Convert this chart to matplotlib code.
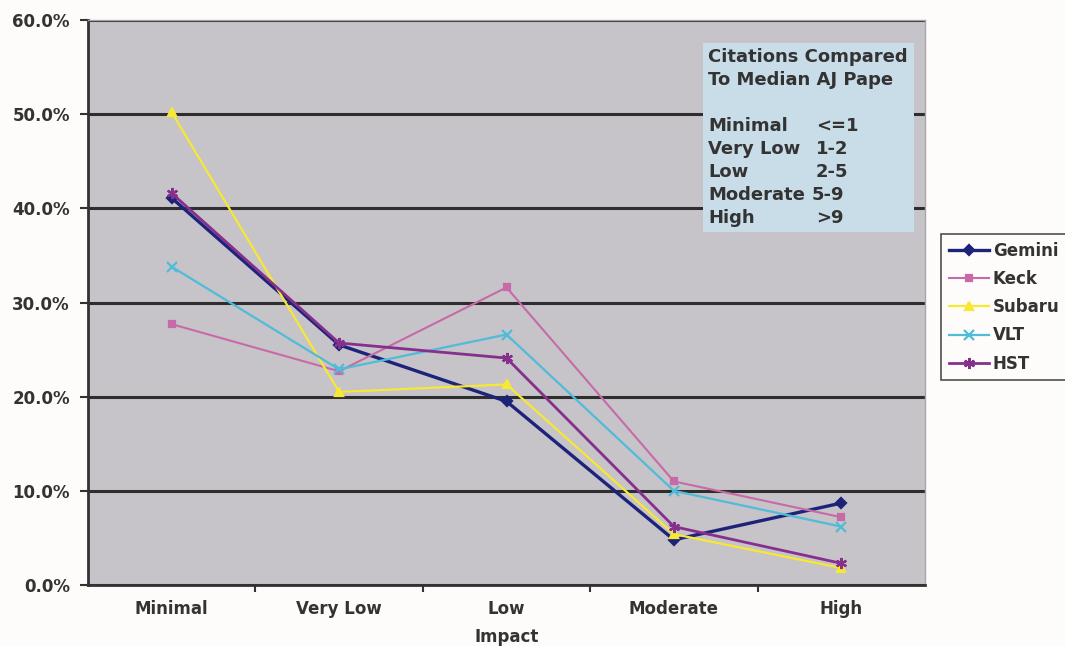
import matplotlib
matplotlib.use("Agg")
import matplotlib.pyplot as plt
from matplotlib.patches import Rectangle
import numpy as np

categories = ["Minimal", "Very Low", "Low", "Moderate", "High"]
series_names = ["Gemini", "Keck", "Subaru", "VLT", "HST"]
gemini = [41.1, 25.5, 19.5, 4.8, 8.7]
keck = [27.7, 22.7, 31.6, 11.0, 7.2]
subaru = [50.2, 20.5, 21.3, 5.4, 1.8]
vlt = [33.8, 22.9, 26.6, 10.0, 6.2]
hst = [41.6, 25.7, 24.1, 6.2, 2.3]
y_ticks = [0, 10, 20, 30, 40, 50, 60]

note_title = ["Citations Compared", "To Median AJ Pape"]
note_levels = ["Minimal", "Very Low", "Low", "Moderate", "High"]
note_ranges = ["<=1", "1-2", "2-5", "5-9", ">9"]

plt.rcParams["font.family"] = ["DejaVu Sans"]
plt.rcParams["font.weight"] = "bold"
TXT = "#333333"
W, H = 1065, 646

fig = plt.figure(figsize=(W / 100, H / 100), dpi=100, facecolor="#fdfcfa")
ax = fig.add_axes([88 / W, 1 - 585 / H, (925 - 88) / W, (585 - 20) / H])
ax.set_facecolor("#c6c3c9")

x = np.arange(len(categories))
styles = [
    (gemini, "#1e237a", "D", 2.4, 5),
    (keck, "#c86aa8", "s", 1.5, 5),
    (subaru, "#f7e832", "^", 1.6, 6),
    (vlt, "#4fbcd8", "x", 1.6, 7),
    (hst, "#86308e", (6, 2, 0), 2.0, 8),
]
for name, (vals, col, mk, lw, ms) in zip(series_names, styles):
    ax.plot(x, vals, color=col, lw=lw, marker=mk, ms=ms, mew=1.6,
            label=name, zorder=3)

ax.set_xlim(-0.5, len(categories) - 0.5)
ax.set_ylim(0, 60)
ax.set_yticks(y_ticks)
ax.set_yticklabels([f"{v:.1f}%" for v in y_ticks], fontsize=12,
                   fontweight="bold", color=TXT)
ax.yaxis.grid(True, color="#2e2e2e", lw=2.2)
ax.set_axisbelow(True)

ax.set_xticks(x)
ax.set_xticklabels(categories, fontsize=12, fontweight="bold", color=TXT)
ax.tick_params(axis="x", which="major", length=0, pad=11)
ax.set_xticks(np.arange(0.5, len(categories) - 0.5), minor=True)
ax.tick_params(axis="x", which="minor", length=5, width=1.5, direction="out",
               color=TXT)
ax.tick_params(axis="y", length=6, width=1.5, direction="out",
               color=TXT, pad=7)
ax.set_xlabel("Impact", fontsize=12, fontweight="bold", color=TXT,
              labelpad=7)

for side in ["top", "right"]:
    ax.spines[side].set_color("#a9a6ab")
    ax.spines[side].set_linewidth(1)
for side in ["left", "bottom"]:
    ax.spines[side].set_color(TXT)
    ax.spines[side].set_linewidth(2)

# Definition box for the impact levels
fig.patches.append(Rectangle((703 / W, 1 - 232 / H), (914 - 703) / W,
                             (232 - 43) / H, transform=fig.transFigure,
                             fc="#c9dde8", ec="none", zorder=5))
pitch = 23
y0 = 57
for i, line in enumerate(note_title):
    fig.text(708 / W, 1 - (y0 + i * pitch) / H, line, fontsize=13,
             fontweight="bold", color=TXT, va="center", ha="left", zorder=6)
for i, (lev, rng) in enumerate(zip(note_levels, note_ranges)):
    yy = 1 - (y0 + (i + 3) * pitch) / H
    fig.text(708 / W, yy, lev, fontsize=13, fontweight="bold", color=TXT,
             va="center", ha="left", zorder=6)
    fig.text(812 / W if rng == "5-9" else 816 / W, yy, rng, fontsize=13,
             fontweight="bold", color=TXT, va="center", ha="left", zorder=6)

leg = fig.legend(loc="upper left", bbox_to_anchor=(941 / W, 1 - 234 / H),
                 frameon=True, fancybox=False, edgecolor="#222222",
                 facecolor="#fdfcfa", fontsize=12, handlelength=2.4,
                 handletextpad=0.25, labelspacing=0.62, borderpad=0.45,
                 borderaxespad=0)
leg.get_frame().set_linewidth(1.2)
for t in leg.get_texts():
    t.set_color(TXT)

fig.savefig("out.png", dpi=100, facecolor=fig.get_facecolor())
